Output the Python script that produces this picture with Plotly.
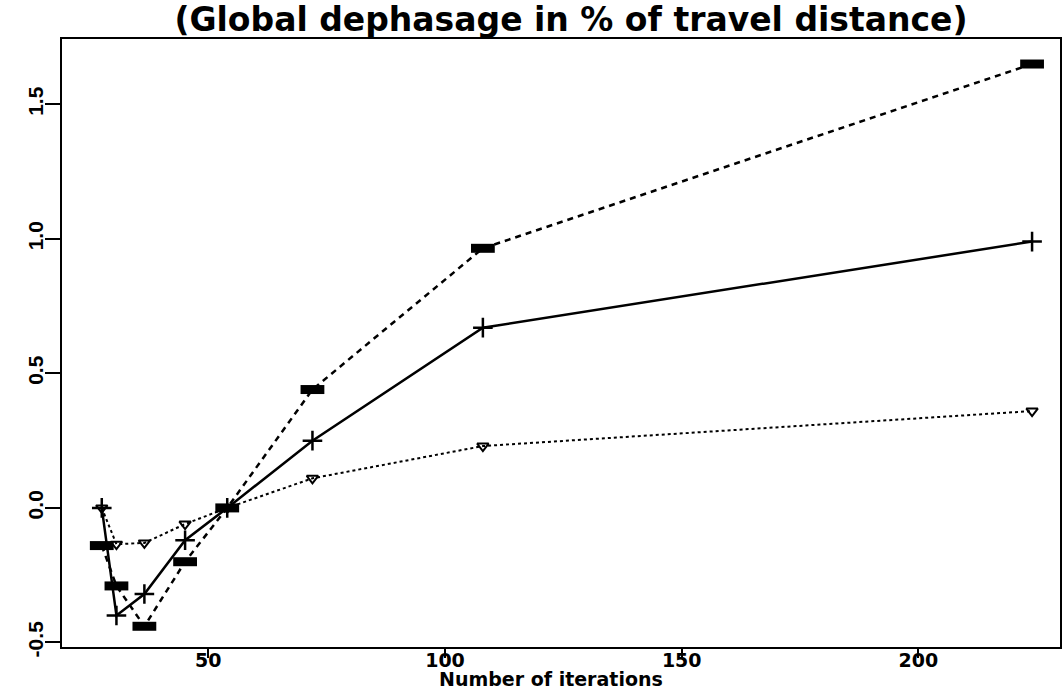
import plotly.graph_objects as go

# Data
iterations = [27.5, 30.6, 36.5, 45.1, 54, 72, 108, 224]
series_square = [-0.14, -0.29, -0.44, -0.20, 0.0, 0.44, 0.965, 1.65]
series_plus = [0.0, -0.40, -0.32, -0.12, 0.0, 0.25, 0.67, 0.99]
series_tri = [0.0, -0.135, -0.13, -0.06, 0.0, 0.11, 0.23, 0.36]

x_ticks = [50, 100, 150, 200]
y_ticks = [-0.5, 0.0, 0.5, 1.0, 1.5]
y_ticklabels = ["-0.5", "0.0", "0.5", "1.0", "1.5"]

title_text = "(Global dephasage in % of travel distance)"
x_title = "Number of iterations"

FONT = "Liberation Sans, Arial, sans-serif"
WIDE = "DejaVu Sans, Verdana, sans-serif"

W, H = 1063, 692
M_L, M_R, M_T, M_B = 62, 3, 39, 45
PLOT_H = H - M_T - M_B

fig = go.Figure()

fig.add_trace(go.Scatter(
    x=iterations, y=series_tri, mode="lines+markers",
    line=dict(color="black", width=2, dash="dot"),
    marker=dict(symbol="triangle-down-open", size=10, color="black",
                line=dict(color="black", width=2)),
    showlegend=False))

fig.add_trace(go.Scatter(
    x=iterations, y=series_plus, mode="lines+markers",
    line=dict(color="black", width=2.5),
    marker=dict(symbol="cross-thin", size=14, color="black",
                line=dict(color="black", width=2.5)),
    showlegend=False))

fig.add_trace(go.Scatter(
    x=iterations, y=series_square, mode="lines",
    line=dict(color="black", width=2.5, dash="6px,5px"),
    showlegend=False))
fig.add_trace(go.Scatter(
    x=iterations, y=series_square, mode="markers",
    marker=dict(symbol="line-ew", size=17, color="black",
                line=dict(color="black", width=9)),
    showlegend=False))

fig.update_layout(
    width=W, height=H,
    margin=dict(l=M_L, r=M_R, t=M_T, b=M_B),
    paper_bgcolor="white", plot_bgcolor="white",
    font=dict(family=FONT, color="black"),
    title=dict(text=title_text, x=0.51, xref="paper", xanchor="center",
               y=1 - 19 / H, yref="container", yanchor="middle",
               automargin=False,
               font=dict(family=WIDE, size=33, color="black", weight="bold")),
    xaxis=dict(range=[19.1, 229.9], tickvals=x_ticks, automargin=False,
               ticks="outside", ticklen=9, tickwidth=2, tickcolor="black",
               ticklabelstandoff=-14,
               showline=True, linecolor="black", linewidth=2, mirror=True,
               showgrid=False, zeroline=False,
               tickfont=dict(family=WIDE, size=19, color="black", weight="bold")),
    yaxis=dict(range=[-0.517, 1.743], tickvals=y_ticks, ticktext=y_ticklabels,
               tickangle=-90, automargin=False,
               ticks="outside", ticklen=15, tickwidth=2, tickcolor="black",
               ticklabelstandoff=-6,
               showline=True, linecolor="black", linewidth=2, mirror=True,
               showgrid=False, zeroline=False,
               tickfont=dict(family=FONT, size=21, color="black", weight="bold")),
    annotations=[dict(text=x_title, xref="paper", yref="paper",
                      x=0.49, y=-32 / PLOT_H, xanchor="center", yanchor="middle",
                      showarrow=False,
                      font=dict(family=WIDE, size=19, color="black", weight="bold"))],
)

# remove the default 8px page margin so the figure fills the window exactly
fig.write_html("out.html", config={"displayModeBar": False},
               post_script="document.body.style.margin='0px';")
